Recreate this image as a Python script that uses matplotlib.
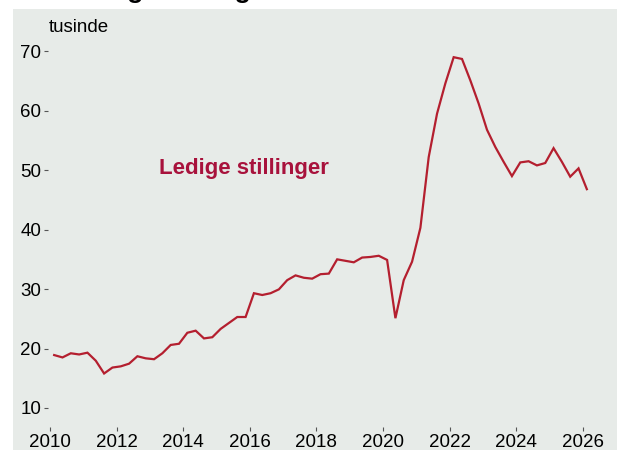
import numpy as np
import pandas as pd
import matplotlib
matplotlib.use("Agg")
import matplotlib.pyplot as plt
from matplotlib.patches import Rectangle

plt.rcParams['font.family'] = ['Liberation Sans', 'DejaVu Sans']

# ledige stillinger, tusinde, kvartalsvis 2010K1 - 2026K1
quarters = pd.period_range("2010Q1", "2026Q1", freq="Q")
ledige = [
    18.9, 18.5, 19.2, 19.0,
    19.3, 17.95, 15.8, 16.8,
    17.0, 17.45, 18.7, 18.35,
    18.2, 19.2, 20.6, 20.8,
    22.65, 23.0, 21.7, 21.9,
    23.3, 24.3, 25.3, 25.3,
    29.3, 29.0, 29.3, 29.95,
    31.5, 32.3, 31.9, 31.75,
    32.5, 32.6, 35.0, 34.75,
    34.5, 35.3, 35.4, 35.6,
    34.9, 25.1, 31.5, 34.6,
    40.3, 52.2, 59.5, 64.6,
    69.0, 68.7, 65.1, 61.2,
    56.8, 53.9, 51.4, 49.0,
    51.3, 51.5, 50.8, 51.2,
    53.7, 51.4, 48.9, 50.3,
    46.8,
]
x_ticks = list(range(2010, 2027, 2))
y_ticks = [10, 20, 30, 40, 50, 60, 70]

bg = "#e7ebe8"
line_col = "#b41f2f"
label_col = "#a8123c"

W, H = 617, 450
fig = plt.figure(figsize=(W / 100, H / 100), dpi=100)
fig.patch.set_facecolor("white")
fig.patches.append(Rectangle((13 / W, 0), 1 - 13 / W, (H - 9) / H,
                             transform=fig.transFigure, facecolor=bg,
                             edgecolor="none", zorder=-5))

ax = fig.add_axes([48 / W, (H - 427) / H, (605 - 48) / W, (427 - 12) / H])
ax.set_facecolor(bg)
ax.patch.set_alpha(0)

x = quarters.year + (quarters.quarter - 0.5) / 4
ax.plot(x, ledige, color=line_col, lw=1.6, solid_joinstyle="miter")

ax.set_xlim(2009.94, 2026.67)
ax.set_ylim(6.8, 76.6)
ax.set_xticks(x_ticks)
ax.set_yticks(y_ticks)
ax.tick_params(axis="both", labelsize=13.5, length=3, width=0.8,
               color="#555555", pad=2)
for s in ax.spines.values():
    s.set_visible(False)

ax.text(2015.83, 50.3, "Ledige stillinger", color=label_col, fontsize=16,
        fontweight="bold", ha="center", va="center")

fig.text(49 / W, 1 - 27 / H, "tusinde", fontsize=13.5, ha="left", va="center")
fig.text(73 / W, 1 + 2 / H, "Ledige stillinger", fontsize=19,
         fontweight="bold", ha="left", va="baseline")

fig.savefig("out.png", dpi=100)
